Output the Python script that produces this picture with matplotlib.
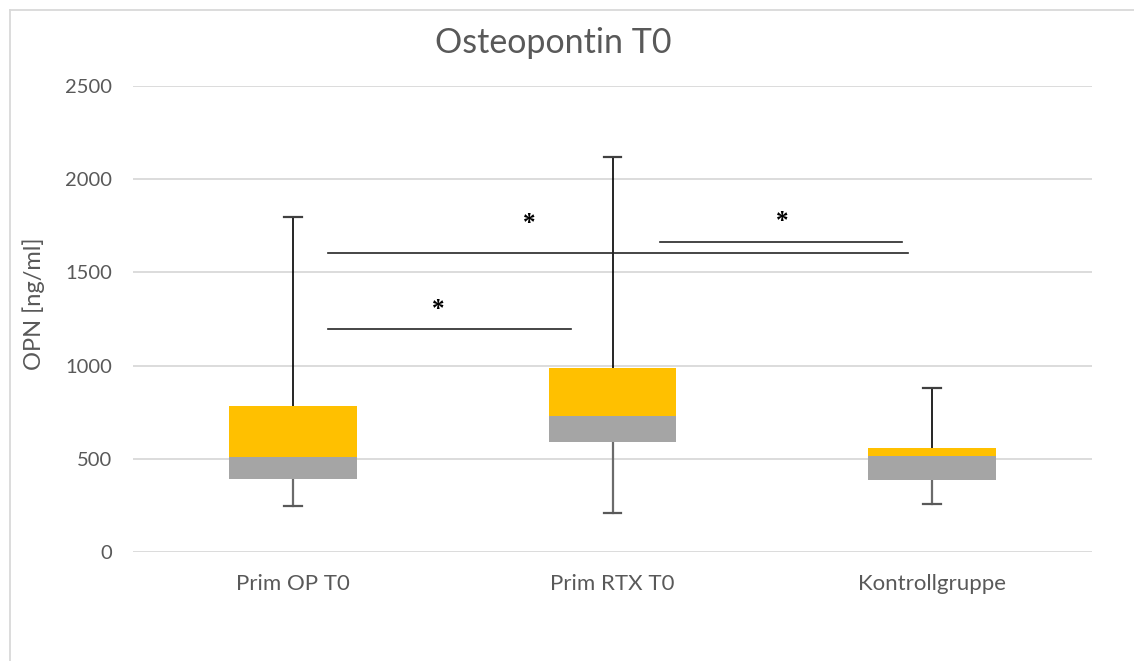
"""
Osteopontin T0 - Excel-style stacked box plot recreated in matplotlib.
Grey = Q1..median, orange = median..Q3, whiskers to min / max.
"""

import numpy as np
import matplotlib
matplotlib.use("Agg")
import matplotlib.pyplot as plt
from matplotlib.lines import Line2D

# ─── Data ────────────────────────────────────────────────────────────────────
groups   = ["Prim OP T0", "Prim RTX T0", "Kontrollgruppe"]
minimum  = [247, 211, 258]
q1       = [392, 589, 386]
median   = [511, 731, 517]
q3       = [783, 985, 556]
maximum  = [1795, 2121, 880]

# significance brackets: (x start, x end, y level) and star (x, y)
sig_lines = [(0.11, 1.925, 1602), (1.15, 1.905, 1662), (0.11, 0.87, 1198)]
sig_stars = [(0.74, 1762), (1.53, 1772), (0.455, 1300)]

TEXT_GREY = "#595959"
GRID_GREY = "#D9D9D9"
ORANGE    = "#FFC000"
BOX_GREY  = "#A5A5A5"

plt.rcParams["font.family"] = ["Lato", "DejaVu Sans"]

fig = plt.figure(figsize=(11.34, 6.61), dpi=100)
ax = fig.add_axes([133 / 1134, 1 - 552 / 661, (1092 - 133) / 1134, (552 - 86) / 661])

x = np.arange(len(groups))
width = 0.4
lower = np.array(median) - np.array(q1)
upper = np.array(q3) - np.array(median)

ax.bar(x, lower, width, bottom=q1, color=BOX_GREY, zorder=3)
ax.bar(x, upper, width, bottom=median, color=ORANGE, zorder=3)

# whiskers: upper black, lower dark grey (like Excel error bars)
cap = 0.055
for i in x:
    ax.plot([i, i], [q3[i], maximum[i]], color="black", lw=1.2, zorder=2)
    ax.plot([i - cap / 2, i + cap / 2], [maximum[i]] * 2, color="#404040", lw=1.6, zorder=2)
    ax.plot([i, i], [minimum[i], q1[i]], color="#6b6b6b", lw=1.6, zorder=2)
    ax.plot([i - cap / 2, i + cap / 2], [minimum[i]] * 2, color="#595959", lw=1.6, zorder=2)

for x0, x1, y in sig_lines:
    ax.plot([x0, x1], [y, y], color="#262626", lw=1.2, zorder=4)
for sx, sy in sig_stars:
    ax.text(sx, sy, "*", fontsize=18, family="Liberation Serif", fontweight="bold",
            ha="center", va="center", color="black", zorder=5)

ax.set_xlim(-0.5, 2.5)
ax.set_ylim(0, 2500)
ax.set_yticks(np.arange(0, 2501, 500))
ax.set_xticks(x)
ax.set_xticklabels(groups, fontsize=16)
ax.yaxis.grid(True, color=GRID_GREY, lw=1.3, zorder=0)
ax.set_axisbelow(True)
for s in ax.spines.values():
    s.set_visible(False)
ax.tick_params(axis="both", length=0, labelsize=14.5, colors=TEXT_GREY)
ax.tick_params(axis="x", labelsize=16, pad=16)
ax.tick_params(axis="y", pad=15)

ax.set_ylabel("OPN [ng/ml]", fontsize=17, color=TEXT_GREY)
ax.yaxis.set_label_coords(-0.0915, 0.532)
fig.text(553 / 1134, 1 - 43 / 661, "Osteopontin T0", fontsize=24.5, color=TEXT_GREY,
         ha="center", va="center")

# chart-area frame (only left and top visible in the crop)
fig.add_artist(Line2D([9.5 / 1134, 9.5 / 1134], [0, 1 - 9.5 / 661],
                      transform=fig.transFigure, color=GRID_GREY, lw=1.3))
fig.add_artist(Line2D([9.5 / 1134, 1], [1 - 9.5 / 661, 1 - 9.5 / 661],
                      transform=fig.transFigure, color=GRID_GREY, lw=1.3))

fig.savefig("out.png", dpi=100)
